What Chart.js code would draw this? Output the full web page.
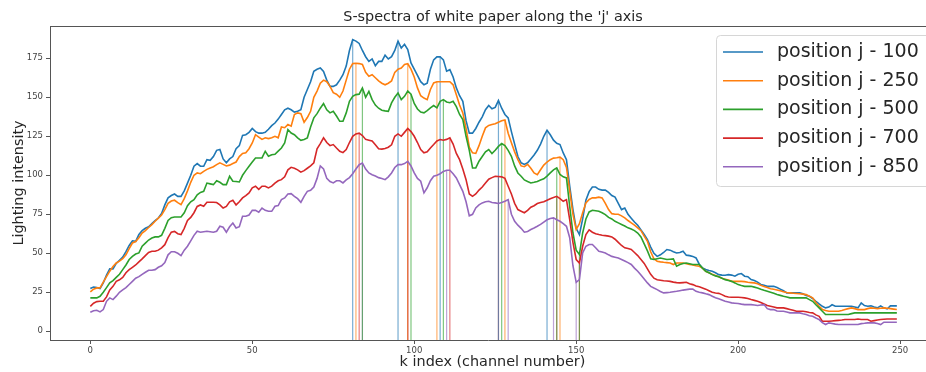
<!DOCTYPE html>
<html>
<head>
<meta charset="utf-8">
<title>S-spectra of white paper</title>
<script src="https://cdn.jsdelivr.net/npm/chart.js@4.4.1/dist/chart.umd.min.js"></script>
<style>
  html, body { margin: 0; padding: 0; background: #fff; overflow: hidden; }
  #chart { display: block; }
</style>
</head>
<body>
<canvas id="chart" width="926" height="372"></canvas>
<script>
// ---- data (k index 0..249) ----
var titleText = "S-spectra of white paper along the 'j' axis";
var xTitle = 'k index (channel number)';
var yTitle = 'Lighting intensity';
var xTicks = [0, 50, 100, 150, 200, 250];
var yTicks = [0, 25, 50, 75, 100, 125, 150, 175];
var seriesNames = ['position j - 100', 'position j - 250', 'position j - 500', 'position j - 700', 'position j - 850'];
var seriesColors = ['#1f77b4', '#ff7f0e', '#2ca02c', '#d62728', '#9467bd'];

var pos100 = [
  27.4,28.4,28,27.4,31,36,40,40,43.5,45.5,
  47.5,51,55,58,57.7,62,64.5,66,67,69,
  71,72.6,75.5,81,85.5,87,88,86.5,86.5,90,
  95,100,105.8,107.5,105.8,105.8,110,109.6,112,116,
  116.5,110.5,108,110.5,112,117,119,125.6,126,127.5,
  130,128,127,127,127.5,129.5,131.8,133.5,136,139,
  142,143,142,140.5,141,142,150,155,160,166.7,
  168,168.8,166.5,161,157,157,158,161,164.5,170,
  180,187,186,184.5,180,176,173,174.6,170.3,173,
  173,177,174.6,176,180,186,181.6,184,180.6,172,
  168,164,160,158,159,168,174,175.9,176,174,
  166.7,167.7,163,156,151,147.4,135,127,127,130,
  134,137.5,142,144.7,142.6,143.5,147.9,143,139,136.8,
  128,120,112,108,107,108,110.5,113,116,120,
  125,128.8,126,122.5,120.5,119.7,114.3,110,93,78,
  66,62,72,84,89.5,92.5,92.5,91,90.5,90.5,
  89,87,86,82,78,79,75,72.5,70,68,
  65,62,58.8,54,50,48,49,50.5,52.4,52,
  51,50.2,50.5,51.3,48.8,48.5,48,47,43,40.5,
  39.6,39,38.5,37.5,36.3,36,35.9,36.3,36,35.3,
  36.5,37,35.3,35,33.1,32.5,31.5,30,29.5,28.8,
  28.8,28.8,28,27,26,24.6,24.6,24.6,24.6,24.6,
  24,23,22.4,21,19.2,17.5,16,15,15.5,17,
  16,16,16,16,16,16,15.5,15,18.2,16.5,
  16,16.3,15.5,15,16.3,15,14.3,16.3,16.3,16.3
];
var pos250 = [
  25.2,27,27.8,27.8,31.5,35,38.5,41.5,43.8,45,
  46.5,49,53,56.6,57.5,60,63,64.5,66.5,68.4,
  70.5,72.5,74.5,78,82,83.5,84,82.5,81.2,85,
  90,95.5,100,101.5,101,102.5,103.8,104.7,105.5,106.8,
  108,107,106,106.5,107.5,108.5,112,114,114.5,117,
  120.7,126,124.5,123,124,123.5,124,125,124,131,
  130.5,132.5,131.5,139,140,139.5,134,137,141,150,
  154,159,161,160,157,153,152,150,154,161,
  168,171.6,171.8,171.6,171,166,163.5,164.5,162.5,160.5,
  159,158,159,160.5,166,168,168.8,171,171.5,168,
  163,156,151,149.5,148.5,155,159.2,160,160,160,
  160,160,158,151.7,145,140,130,118,114.4,114,
  119,125,130.4,132,132.5,133,134,135,135.5,127,
  120.8,115,110,106,105.5,107,104.5,101.5,100.4,103.5,
  106.5,108.5,110,111,111.2,111.6,110,105,90,75,
  65.2,69,76,82.3,84.5,85.5,85.5,86,85.5,82,
  78,75.4,75,75,74,72.7,71,69.5,68,66.3,
  64.5,61,57.7,51,46.5,44.9,44.5,44.2,44,43.8,
  42.8,43.8,43.8,43.8,43.3,42.8,42.5,42,41.7,40.5,
  38.5,37.5,36.5,35.8,35,34,33.4,32.8,32,32,
  32,32,31.8,31.4,31.2,31,30.5,29.5,28.7,28,
  27.2,26.9,26.5,26,25.4,24.8,24.6,24.4,24.2,24,
  23.8,23.5,22.5,21.4,18.5,16,14,13.3,12.8,12.8,
  12.8,12.8,13.3,13.9,14.5,15,14.5,13.9,13.9,13.9,
  14.5,15,14.8,14.5,14.8,15,14.8,14.5,14.2,13.9
];
var pos500 = [
  21.4,21.4,21.4,22.4,25,28,31,32.5,34.5,36.5,
  39.5,42.5,46,48,49.5,50.2,54.5,56.5,58.5,59.8,
  60.5,60.5,61.5,66,71,72.8,73.3,73.3,73.3,76,
  80.5,83,84.4,87.5,89,89.7,95,94.5,94,96.5,
  95.5,94,94,99.4,96.2,96,95.7,100,103,105.8,
  108.5,111.1,111.1,111.1,115.4,112.2,113.2,113.5,115.5,117.5,
  120.7,129.3,127.1,126,124,122.4,122.9,124,131,136.8,
  139.5,143,146,142,140,141,138,134.6,134.6,140,
  147.4,150.6,151.7,152,156,150,153.8,148.5,145,143,
  141.7,141.3,141,146.4,150,152.8,148.5,150.6,154,152,
  146,142.5,140.5,140,141.5,143.2,144.7,143.2,147.4,148.5,
  147,146.5,147.4,144,139,135.7,125,116,104.7,104.7,
  109,112,115,116.5,113.9,116,118.5,120.3,119,116,
  112.2,106,101.5,99.4,97,96,95.1,95.5,96,97,
  97.7,99.5,101.5,103.5,104.7,100.5,99,98.3,80,63,
  52,49.2,63,72,76.5,77.6,77.3,77,76,74.8,
  73,72,70.5,69.5,68.5,67.5,66.3,65.5,64.5,63,
  60.5,56,51.5,46.5,46,46.5,47,46.5,46,46.2,
  46.4,41.7,42.8,43.5,43.8,43.3,42.8,42.8,42.8,40.5,
  38.5,37.5,36.3,35.5,34.9,34,33.1,32.5,32,31,
  29.9,29.3,28.8,28.8,28.8,28.3,27.8,27,26.3,25.7,
  25,24.3,23.5,23,22.4,22,21.4,21.4,21.4,21.4,
  21.4,21.4,20.3,19.2,17,15,12.8,10.7,10.7,10.7,
  10.7,10.7,10.7,10.7,10.7,11.3,11.8,11.8,11.8,11.8,
  11.8,11.8,11.8,11.8,11.8,11.8,11.8,11.8,11.8,11.8
];
var pos700 = [
  16,18,19,19.2,19.2,22,26.5,28.8,32,33,
  34.5,37.5,39.5,41,42.5,44.5,46.4,48.5,50.5,51.3,
  51.3,52,53.5,55.5,60,63.5,64,62.5,62,66,
  71,73,76,80,81,80.1,82.7,82.7,82.7,82.5,
  81,79,80,83,84,81,83,85.5,87,88.7,
  92,93,91,93,93,91.9,93,95,96.5,97.2,
  99,103.5,105.1,104.5,103.5,102,103,104.5,106,108,
  117,120.3,124,121,119,119.7,117.5,115.4,114.5,116.5,
  121,125,126.5,127,125.5,123,122.5,122,119.5,117,
  116.8,117.2,118,119.5,125,126.5,125,127.5,130,128,
  125,121,116.5,114.4,115,117.5,119.7,122,122.9,122.5,
  123,124,120,114,110,104,97.2,88,86.5,88,
  90.5,92.5,95,97.5,98.5,99.4,99.2,99,98,93,
  88,82,78,77,76,77.5,79.5,80.5,81.9,82.5,
  83,84,85,85.8,86.5,85,83.3,84.4,71.6,57,
  46,43.8,54.5,62,65,63.5,62.5,62,61.6,61.3,
  61,60.5,59,57,55,53.5,53,52.4,50.5,48.5,
  46,43.5,40,36.5,34,33,32.7,32.4,32.2,32,
  31.5,31.2,31,31.2,31.4,30.5,29.9,29,28.5,27.8,
  27,26,25,24.5,24.3,23.5,22.4,22,21.8,21.8,
  21.8,21.6,21.4,21,20.3,19.8,19.2,18.5,17.5,16.5,
  16,15.5,15,15,15,14.5,14,13.5,12.8,12.8,
  12.8,12.5,12,11.8,10.5,9.6,6.4,6.4,6.4,6.6,
  6.8,7,7.2,7.5,7.5,7.5,7.5,7.9,7.5,7.5,
  7.5,6.4,6.8,7.2,7.5,7.7,7.9,7.9,7.9,7.9
];
var pos850 = [
  12.2,13.2,13.5,12.4,13.9,19.2,21.4,20.3,22.5,25,
  26.5,28,30,32,34,35,36.5,37.8,39.1,39.1,
  39.5,41,42,44,49,51,51,50,48.5,52,
  54.5,58,61.5,64.1,63.5,63.8,64.1,63.8,63.5,64.1,
  67.3,66.7,63.5,67,69.4,66.2,67,73.7,73.7,74.5,
  77.5,77.5,76.3,79,77.5,76.9,76.9,80.1,80.6,84.4,
  85.5,88,88.2,86.5,85,82.7,86.5,89.7,90.4,92.5,
  98,106,104,98,96,95.1,96.5,96.5,95.1,97,
  98.5,101,104,106.8,107.9,104,101.5,100.4,99.5,98.5,
  98,97.2,99,101.5,105,106.8,106.8,107.5,108.9,106,
  101.5,98,96.2,88.7,92,96.5,99.4,100,101,102.5,
  103.2,103.2,101,98.3,94,89.7,83,74,75,79.1,
  81,82.3,83,83.3,82.5,82.3,81.9,82.5,83.3,84.4,
  75,70.5,68,66,63.5,64,65.2,66.2,67.3,68.5,
  70,71.5,72.3,72.7,71.5,70.5,69,67.3,60,42,
  31.4,33.1,50.2,54.5,55.6,55.6,53.5,51.3,50.8,50.2,
  49,48,47.5,47,46,45,44,42.8,40.5,38.5,
  36,33.5,31,28.8,27.7,26.7,25.5,24.6,24.8,25,
  25.3,25.6,26,26.4,26.7,27,27.1,25.6,25,24.6,
  24,23.5,22.5,21.5,20.8,20,19.2,18.7,18.2,18,
  17.8,17.4,17.1,17.1,17.1,16.8,16.5,16.8,17.1,14.5,
  13.9,13.9,13,12.8,12.8,12.3,11.8,11.8,11.8,11.8,
  11.2,10.7,10,9.6,8.5,7.5,5.5,4.3,5.4,5,
  4.6,4.3,4.3,4.3,4.3,4.3,4.3,4.3,4.9,5.1,
  5.4,5.4,5.4,5,4.3,5.8,5.8,5.8,5.8,5.8
];

// k indices where each series gets a vertical marker line
var marks100 = [81, 95, 108, 126, 141];
var marks250 = [82, 98, 107, 128, 145];
var marks500 = [84, 99, 109, 127, 144, 151];
var marks700 = [83, 98, 111, 126, 144, 151];
var marks850 = [84, 98, 110, 129, 143, 150];

var allSeries = [pos100, pos250, pos500, pos700, pos850];
var allMarks = [marks100, marks250, marks500, marks700, marks850];

var X_MIN = -12.45, X_MAX = 258.0;
var Y_MIN = -5.6, Y_MAX = 195.7;
var FONT = '"DejaVu Sans", "Liberation Sans", sans-serif';

function hexToRgba(hex, a) {
  var n = parseInt(hex.slice(1), 16);
  return 'rgba(' + (n >> 16) + ',' + ((n >> 8) & 255) + ',' + (n & 255) + ',' + a + ')';
}

var datasets = [];
// vertical marker lines (drawn underneath)
allMarks.forEach(function(marks, s) {
  var pts = [];
  marks.forEach(function(k) {
    pts.push({x: k, y: Y_MIN});
    pts.push({x: k, y: allSeries[s][k]});
    pts.push({x: k, y: null});
  });
  datasets.push({
    label: 'marks ' + seriesNames[s],
    data: pts,
    borderColor: hexToRgba(seriesColors[s], 0.6),
    borderWidth: 1.2,
    pointRadius: 0,
    spanGaps: false,
    tension: 0,
    order: 10
  });
});
allSeries.forEach(function(vals, s) {
  datasets.push({
    label: seriesNames[s],
    data: vals.map(function(v, i) { return {x: i, y: v}; }),
    borderColor: seriesColors[s],
    borderWidth: 1.6,
    pointRadius: 0,
    tension: 0,
    order: 5 - s
  });
});

// titles, top spine and boxed legend drawn on the canvas
var decorPlugin = {
  id: 'decor',
  afterDraw: function(chart) {
    var ctx = chart.ctx, a = chart.chartArea;
    ctx.save();
    ctx.strokeStyle = '#555';
    ctx.lineWidth = 1;
    ctx.beginPath();
    ctx.moveTo(a.left, a.top + 0.5);
    ctx.lineTo(a.right, a.top + 0.5);
    ctx.stroke();

    ctx.fillStyle = '#262626';
    ctx.textAlign = 'center';
    ctx.textBaseline = 'middle';
    ctx.font = '14.4px ' + FONT;
    ctx.fillText(titleText, 493, 17);
    ctx.fillText(xTitle, 492.5, 362);
    ctx.translate(19, 183);
    ctx.rotate(-Math.PI / 2);
    ctx.fillText(yTitle, 0, 0);
    ctx.restore();

    // legend box
    ctx.save();
    var bx = 716.5, by = 35.5, bw = 240, bh = 151, r = 4;
    ctx.beginPath();
    ctx.moveTo(bx + r, by);
    ctx.lineTo(bx + bw - r, by);
    ctx.arcTo(bx + bw, by, bx + bw, by + r, r);
    ctx.lineTo(bx + bw, by + bh - r);
    ctx.arcTo(bx + bw, by + bh, bx + bw - r, by + bh, r);
    ctx.lineTo(bx + r, by + bh);
    ctx.arcTo(bx, by + bh, bx, by + bh - r, r);
    ctx.lineTo(bx, by + r);
    ctx.arcTo(bx, by, bx + r, by, r);
    ctx.closePath();
    ctx.fillStyle = 'rgba(255,255,255,0.8)';
    ctx.fill();
    ctx.strokeStyle = '#d6d6d6';
    ctx.lineWidth = 1;
    ctx.stroke();

    ctx.font = '19px ' + FONT;
    ctx.textAlign = 'left';
    ctx.textBaseline = 'middle';
    seriesNames.forEach(function(name, i) {
      var y = 52 + i * 28.7;
      ctx.strokeStyle = seriesColors[i];
      ctx.lineWidth = 1.6;
      ctx.beginPath();
      ctx.moveTo(723, y);
      ctx.lineTo(763, y);
      ctx.stroke();
      ctx.fillStyle = '#262626';
      ctx.fillText(name, 777, y);
    });
    ctx.restore();
  }
};

new Chart(document.getElementById('chart'), {
  type: 'line',
  data: { datasets: datasets },
  options: {
    responsive: false,
    animation: false,
    devicePixelRatio: 1,
    layout: { padding: { top: 26, right: 0, left: 0, bottom: 0 } },
    plugins: {
      legend: { display: false },
      title: { display: false },
      tooltip: { enabled: false }
    },
    scales: {
      x: {
        type: 'linear',
        min: X_MIN,
        max: X_MAX,
        afterBuildTicks: function(scale) {
          scale.ticks = xTicks.map(function(v) { return {value: v}; });
        },
        afterFit: function(scale) { scale.height = 32; },
        grid: { drawOnChartArea: false, drawTicks: true, tickLength: 4, tickColor: '#555' },
        border: { display: true, color: '#555', width: 1 },
        ticks: { color: '#444', font: { family: FONT, size: 8.5 }, padding: 2, maxRotation: 0 }
      },
      y: {
        type: 'linear',
        min: Y_MIN,
        max: Y_MAX,
        afterBuildTicks: function(scale) {
          scale.ticks = yTicks.map(function(v) { return {value: v}; });
        },
        afterFit: function(scale) { scale.width = 50; },
        grid: { drawOnChartArea: false, drawTicks: true, tickLength: 4, tickColor: '#555' },
        border: { display: true, color: '#555', width: 1 },
        ticks: { color: '#444', font: { family: FONT, size: 8.5 }, padding: 3 }
      }
    }
  },
  plugins: [decorPlugin]
});
</script>
</body>
</html>
